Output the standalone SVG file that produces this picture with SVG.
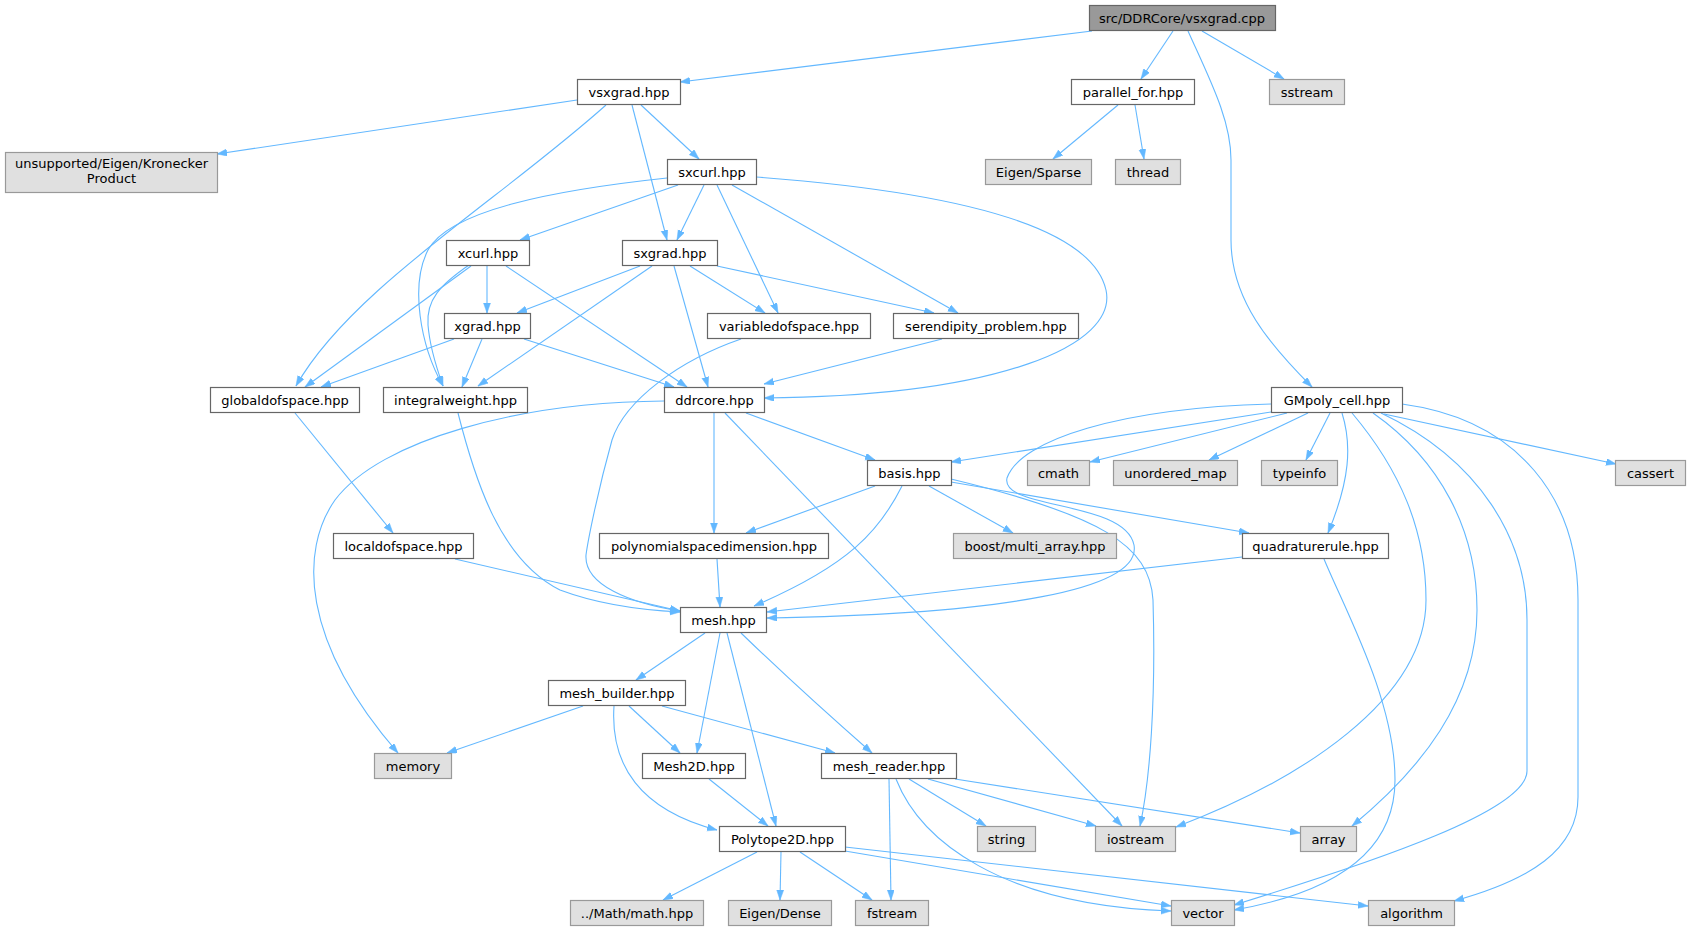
<svg xmlns="http://www.w3.org/2000/svg" width="1690" height="931" viewBox="0 0 1690 931">
<style>
.n rect{fill:#ffffff;stroke:#666666;stroke-width:1.2}
.x rect{fill:#e0e0e0;stroke:#999999;stroke-width:1.2}
.r rect{fill:#999999;stroke:#666666;stroke-width:1.2}
text{font-family:"DejaVu Sans","Noto Sans",sans-serif;font-size:13px;text-anchor:middle;fill:#000000}
#edges path{fill:none;stroke:#63b8ff;stroke-width:1.1;marker-end:url(#a)}
</style>
<defs>
<marker id="a" markerUnits="userSpaceOnUse" markerWidth="11" markerHeight="8" refX="10" refY="3.5" orient="auto">
<path d="M0,0 L10,3.5 L0,7 z" fill="#63b8ff" stroke="#63b8ff" stroke-width="0.5"/>
</marker>
</defs>
<rect width="1690" height="931" fill="#ffffff"/>
<g id="edges">
<path d="M1092,31 L680,82"/>
<path d="M1173,31 L1141,79"/>
<path d="M1202,31 L1284,79"/>
<path d="M1188,31 C1210,80 1231,120 1231,160 L1231,240 C1231,300 1270,345 1312,387"/>
<path d="M577,100 L217,154"/>
<path d="M606,105 C500,200 350,290 296,386"/>
<path d="M632,105 L667,240"/>
<path d="M641,105 L699,159"/>
<path d="M1118,105 L1053,159"/>
<path d="M1135,105 L1144,159"/>
<path d="M678,185 L520,240"/>
<path d="M704,185 L677,240"/>
<path d="M717,185 L778,313"/>
<path d="M732,185 L958,313"/>
<path d="M667,178 C555,190 450,210 428,250 C410,285 420,345 443,386"/>
<path d="M469,265 C440,285 426,300 428,325 C430,350 438,372 443,386"/>
<path d="M756,177 C930,190 1090,220 1106,290 C1118,345 1000,396 764,398"/>
<path d="M487,265 L487,313"/>
<path d="M471,266 L305,387"/>
<path d="M506,266 L687,387"/>
<path d="M640,266 L517,313"/>
<path d="M652,266 L478,386"/>
<path d="M674,266 L708,387"/>
<path d="M690,266 L765,313"/>
<path d="M717,266 L934,313"/>
<path d="M454,339 L321,387"/>
<path d="M482,339 L462,387"/>
<path d="M524,339 L674,387"/>
<path d="M741,339 C680,360 625,400 612,440 C598,490 588,540 586,555 C584,585 630,603 680,611"/>
<path d="M942,339 L764,384"/>
<path d="M295,413 L393,533"/>
<path d="M458,413 C475,480 500,560 560,590 C600,605 640,610 680,612"/>
<path d="M664,401 C520,402 380,440 335,500 C300,550 300,640 398,753"/>
<path d="M714,413 L714,533"/>
<path d="M725,413 L1122,826"/>
<path d="M746,413 L875,460"/>
<path d="M875,486 L746,533"/>
<path d="M902,486 C880,530 850,565 754,606"/>
<path d="M929,486 L1013,533"/>
<path d="M951,482 L1249,533"/>
<path d="M951,479 C1100,515 1150,545 1153,600 C1156,700 1150,780 1140,826"/>
<path d="M1271,412 L951,462"/>
<path d="M1271,404 C1120,408 1020,440 1007,478 C1000,510 1125,500 1134,545 C1142,590 1000,614 767,618"/>
<path d="M1287,413 L1090,462"/>
<path d="M1308,413 L1209,460"/>
<path d="M1330,413 L1306,460"/>
<path d="M1342,413 C1352,445 1350,480 1328,533"/>
<path d="M1384,414 L1616,464"/>
<path d="M1352,413 C1400,470 1426,530 1426,600 C1426,700 1300,780 1176,827"/>
<path d="M1373,413 C1440,460 1477,530 1477,610 C1477,700 1420,770 1352,826"/>
<path d="M1381,413 C1480,460 1527,540 1527,620 L1527,771 C1527,810 1380,860 1234,905"/>
<path d="M1402,404 C1520,420 1578,500 1578,600 L1578,797 C1578,850 1530,880 1454,901"/>
<path d="M1242,557 L767,612"/>
<path d="M1324,559 C1345,610 1395,700 1395,780 C1395,860 1320,895 1234,910"/>
<path d="M455,559 L680,611"/>
<path d="M717,559 L720,607"/>
<path d="M705,633 L636,680"/>
<path d="M720,633 L697,753"/>
<path d="M727,633 L776,826"/>
<path d="M741,633 Q800,690 872,753"/>
<path d="M583,706 L447,753"/>
<path d="M629,706 L680,753"/>
<path d="M662,706 L835,753"/>
<path d="M614,706 C610,765 640,810 717,830"/>
<path d="M709,779 L768,826"/>
<path d="M909,779 L986,826"/>
<path d="M928,779 L1096,826"/>
<path d="M955,779 L1300,833"/>
<path d="M889,779 L891,900"/>
<path d="M896,779 C920,840 1000,905 1171,911"/>
<path d="M757,852 L663,900"/>
<path d="M781,852 L780,900"/>
<path d="M800,852 L872,900"/>
<path d="M845,851 L1171,906"/>
<path d="M845,847 L1368,906"/>
</g>
<g id="n_root" class="r"><rect x="1089.5" y="5.5" width="186" height="25"/><text x="1182" y="22.5">src/DDRCore/vsxgrad.cpp</text></g>
<g id="n_vsxgrad" class="n"><rect x="577.5" y="79.5" width="103" height="25"/><text x="629" y="96.5">vsxgrad.hpp</text></g>
<g id="n_kron" class="x"><rect x="5.5" y="152.5" width="212" height="40"/><text x="111.5" y="168">unsupported/Eigen/Kronecker</text><text x="111.5" y="183">Product</text></g>
<g id="n_parallel" class="n"><rect x="1071.5" y="79.5" width="123" height="25"/><text x="1133" y="96.5">parallel_for.hpp</text></g>
<g id="n_sstream" class="x"><rect x="1269.5" y="79.5" width="75" height="25"/><text x="1307" y="96.5">sstream</text></g>
<g id="n_sparse" class="x"><rect x="985.5" y="159.5" width="106" height="25"/><text x="1038.5" y="176.5">Eigen/Sparse</text></g>
<g id="n_thread" class="x"><rect x="1115.5" y="159.5" width="65" height="25"/><text x="1148" y="176.5">thread</text></g>
<g id="n_sxcurl" class="n"><rect x="667.5" y="159.5" width="89" height="25"/><text x="712" y="176.5">sxcurl.hpp</text></g>
<g id="n_xcurl" class="n"><rect x="446.5" y="240.5" width="83" height="25"/><text x="488" y="257.5">xcurl.hpp</text></g>
<g id="n_sxgrad" class="n"><rect x="622.5" y="240.5" width="95" height="25"/><text x="670" y="257.5">sxgrad.hpp</text></g>
<g id="n_xgrad" class="n"><rect x="444.5" y="313.5" width="86" height="25"/><text x="487.5" y="330.5">xgrad.hpp</text></g>
<g id="n_variabledofspace" class="n"><rect x="707.5" y="313.5" width="163" height="25"/><text x="789" y="330.5">variabledofspace.hpp</text></g>
<g id="n_serendipity" class="n"><rect x="893.5" y="313.5" width="185" height="25"/><text x="986" y="330.5">serendipity_problem.hpp</text></g>
<g id="n_globaldofspace" class="n"><rect x="210.5" y="387.5" width="149" height="25"/><text x="285" y="404.5">globaldofspace.hpp</text></g>
<g id="n_integralweight" class="n"><rect x="383.5" y="387.5" width="144" height="25"/><text x="455.5" y="404.5">integralweight.hpp</text></g>
<g id="n_ddrcore" class="n"><rect x="664.5" y="387.5" width="100" height="25"/><text x="714.5" y="404.5">ddrcore.hpp</text></g>
<g id="n_gmpoly" class="n"><rect x="1271.5" y="387.5" width="131" height="25"/><text x="1337" y="404.5">GMpoly_cell.hpp</text></g>
<g id="n_basis" class="n"><rect x="867.5" y="460.5" width="84" height="25"/><text x="909.5" y="477.5">basis.hpp</text></g>
<g id="n_cmath" class="x"><rect x="1027.5" y="460.5" width="62" height="25"/><text x="1058.5" y="477.5">cmath</text></g>
<g id="n_unordered_map" class="x"><rect x="1113.5" y="460.5" width="124" height="25"/><text x="1175.5" y="477.5">unordered_map</text></g>
<g id="n_typeinfo" class="x"><rect x="1261.5" y="460.5" width="76" height="25"/><text x="1299.5" y="477.5">typeinfo</text></g>
<g id="n_cassert" class="x"><rect x="1615.5" y="460.5" width="70" height="25"/><text x="1650.5" y="477.5">cassert</text></g>
<g id="n_localdofspace" class="n"><rect x="333.5" y="533.5" width="140" height="25"/><text x="403.5" y="550.5">localdofspace.hpp</text></g>
<g id="n_polyspacedim" class="n"><rect x="599.5" y="533.5" width="229" height="25"/><text x="714" y="550.5">polynomialspacedimension.hpp</text></g>
<g id="n_boost" class="x"><rect x="953.5" y="533.5" width="163" height="25"/><text x="1035" y="550.5">boost/multi_array.hpp</text></g>
<g id="n_quadrature" class="n"><rect x="1242.5" y="533.5" width="146" height="25"/><text x="1315.5" y="550.5">quadraturerule.hpp</text></g>
<g id="n_mesh" class="n"><rect x="680.5" y="607.5" width="86" height="25"/><text x="723.5" y="624.5">mesh.hpp</text></g>
<g id="n_mesh_builder" class="n"><rect x="548.5" y="680.5" width="137" height="25"/><text x="617" y="697.5">mesh_builder.hpp</text></g>
<g id="n_memory" class="x"><rect x="374.5" y="753.5" width="77" height="25"/><text x="413" y="770.5">memory</text></g>
<g id="n_mesh2d" class="n"><rect x="642.5" y="753.5" width="103" height="25"/><text x="694" y="770.5">Mesh2D.hpp</text></g>
<g id="n_mesh_reader" class="n"><rect x="821.5" y="753.5" width="135" height="25"/><text x="889" y="770.5">mesh_reader.hpp</text></g>
<g id="n_polytope" class="n"><rect x="719.5" y="826.5" width="126" height="25"/><text x="782.5" y="843.5">Polytope2D.hpp</text></g>
<g id="n_string" class="x"><rect x="977.5" y="826.5" width="58" height="25"/><text x="1006.5" y="843.5">string</text></g>
<g id="n_iostream" class="x"><rect x="1095.5" y="826.5" width="80" height="25"/><text x="1135.5" y="843.5">iostream</text></g>
<g id="n_array" class="x"><rect x="1300.5" y="826.5" width="56" height="25"/><text x="1328.5" y="843.5">array</text></g>
<g id="n_math" class="x"><rect x="570.5" y="900.5" width="133" height="25"/><text x="637" y="917.5">../Math/math.hpp</text></g>
<g id="n_dense" class="x"><rect x="728.5" y="900.5" width="103" height="25"/><text x="780" y="917.5">Eigen/Dense</text></g>
<g id="n_fstream" class="x"><rect x="855.5" y="900.5" width="73" height="25"/><text x="892" y="917.5">fstream</text></g>
<g id="n_vector" class="x"><rect x="1171.5" y="900.5" width="63" height="25"/><text x="1203" y="917.5">vector</text></g>
<g id="n_algorithm" class="x"><rect x="1368.5" y="900.5" width="86" height="25"/><text x="1411.5" y="917.5">algorithm</text></g>
</svg>
